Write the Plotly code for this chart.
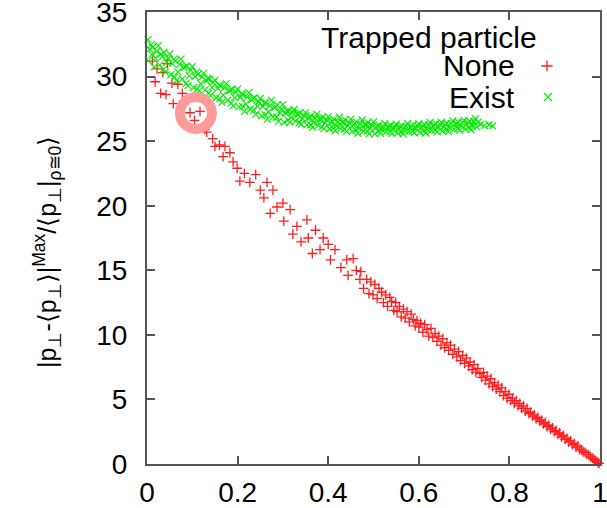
import plotly.graph_objects as go

# Trapped particle: None  (red "+")
none_x = [
    0.012, 0.022, 0.018, 0.035, 0.045, 0.030, 0.055, 0.068, 0.042, 0.078,
    0.058, 0.088, 0.095, 0.117, 0.105, 0.128, 0.132, 0.145, 0.160, 0.150,
    0.172, 0.183, 0.168, 0.190, 0.199, 0.215, 0.205, 0.227, 0.240, 0.250,
    0.265, 0.258, 0.278, 0.287, 0.272, 0.300, 0.316, 0.302, 0.331, 0.353,
    0.322, 0.356, 0.340, 0.372, 0.389, 0.382, 0.365, 0.400, 0.415, 0.405,
    0.441, 0.428, 0.444, 0.455, 0.462, 0.470,
    0.472, 0.478, 0.485, 0.490, 0.494, 0.499, 0.503, 0.508, 0.512, 0.518,
    0.522, 0.527, 0.531, 0.536, 0.540, 0.545, 0.549, 0.552, 0.557, 0.561,
    0.566, 0.570, 0.574, 0.579, 0.583, 0.588, 0.592, 0.596, 0.600, 0.604,
    0.609, 0.613, 0.618, 0.622, 0.627, 0.631, 0.636, 0.640, 0.644, 0.649,
    0.653, 0.657, 0.662, 0.666, 0.670, 0.675, 0.679, 0.684, 0.688, 0.692,
    0.697, 0.701, 0.705, 0.710, 0.713, 0.718, 0.722, 0.726, 0.730, 0.735,
    0.739, 0.743, 0.747, 0.751, 0.755, 0.759, 0.763, 0.767, 0.771, 0.775,
    0.779, 0.783, 0.787, 0.791, 0.795, 0.799, 0.803, 0.807, 0.811, 0.815,
    0.819, 0.823, 0.827, 0.831, 0.835, 0.839, 0.843, 0.847, 0.851, 0.855,
    0.859, 0.863, 0.867, 0.871, 0.875, 0.879, 0.883, 0.887, 0.891, 0.895,
    0.899, 0.903, 0.907, 0.911, 0.915, 0.919, 0.923, 0.927, 0.931, 0.935,
    0.939, 0.943, 0.947, 0.951, 0.955, 0.959, 0.963, 0.967, 0.971, 0.975,
    0.979, 0.983, 0.987, 0.991, 0.995, 0.998,
]
none_y = [
    31.2, 30.6, 29.6, 30.3, 31.0, 28.7, 29.5, 29.4, 28.6, 28.7,
    27.9, 28.2, 27.2, 27.3, 26.6, 25.9, 25.7, 25.2, 24.7, 24.6,
    24.6, 24.1, 23.8, 23.4, 22.9, 22.5, 21.9, 21.8, 22.4, 21.2,
    21.8, 20.6, 21.2, 19.9, 19.4, 20.2, 19.7, 18.8, 18.4, 18.9,
    17.8, 17.5, 17.2, 18.1, 17.5, 16.6, 16.3, 17.0, 16.6, 15.8,
    15.8, 15.2, 14.6, 15.9, 15.0, 14.3,
    14.9, 13.6, 14.3, 13.2, 14.1, 13.1, 13.9, 12.8, 13.6, 13.3,
    12.5, 13.1, 12.2, 12.9, 12.6, 11.9, 12.5, 11.8, 12.2, 11.4,
    12.0, 11.3, 11.8, 11.0, 11.6, 11.2, 10.7, 11.1, 10.6, 10.9,
    10.2, 10.8, 10.4, 9.9, 10.5, 9.8, 10.1, 9.5, 9.9, 9.2,
    9.7, 9.0, 9.4, 8.8, 9.2, 8.5, 8.9, 8.3, 8.7, 8.0,
    8.4, 7.8, 8.2, 7.6, 7.9, 7.3, 7.7, 7.1, 7.4, 7.0,
    6.7, 7.1, 6.5, 6.8, 6.2, 6.6, 6.0, 6.3, 5.8, 6.1,
    5.6, 5.9, 5.3, 5.6, 5.1, 5.4, 4.9, 5.1, 4.7, 4.9,
    4.5, 4.7, 4.3, 4.5, 4.1, 4.3, 3.9, 4.0, 3.7, 3.8,
    3.5, 3.6, 3.3, 3.4, 3.1, 3.2, 2.9, 3.0, 2.7, 2.8,
    2.5, 2.6, 2.3, 2.4, 2.1, 2.2, 1.9, 2.0, 1.7, 1.8,
    1.5, 1.6, 1.3, 1.4, 1.15, 1.1, 0.95, 0.9, 0.75, 0.7,
    0.55, 0.45, 0.35, 0.25, 0.12, 0.05,
]

# Trapped particle: Exist  (green "x")
exist_x = [
    0.002, 0.006, 0.003, 0.0125, 0.0185, 0.0155, 0.025, 0.031, 0.028, 0.0375, 0.0435, 0.0405,
    0.050, 0.056, 0.053, 0.0625, 0.0685, 0.0655, 0.075, 0.081, 0.078, 0.0875, 0.0935, 0.0905,
    0.100, 0.106, 0.103, 0.1125, 0.1185, 0.1155, 0.125, 0.131, 0.128, 0.1375, 0.1435, 0.1405,
    0.150, 0.156, 0.153, 0.1625, 0.1685, 0.1655, 0.175, 0.181, 0.178, 0.1875, 0.1935, 0.1905,
    0.200, 0.206, 0.203, 0.2125, 0.2185, 0.2155, 0.225, 0.231, 0.228, 0.2375, 0.2435, 0.2405,
    0.250, 0.256, 0.253, 0.2625, 0.2685, 0.2655, 0.275, 0.281, 0.278, 0.2875, 0.2935, 0.2905,
    0.300, 0.306, 0.303, 0.3125, 0.3185, 0.3155, 0.325, 0.331, 0.328, 0.3375, 0.3435, 0.3405,
    0.350, 0.356, 0.353, 0.3625, 0.3685, 0.3655, 0.375, 0.381, 0.378, 0.3875, 0.3935, 0.3905,
    0.400, 0.406, 0.403, 0.4125, 0.4185, 0.4155, 0.425, 0.431, 0.428, 0.4375, 0.4435, 0.4405,
    0.450, 0.456, 0.453, 0.4625, 0.4685, 0.4655, 0.475, 0.481, 0.478, 0.4875, 0.4935, 0.4905,
    0.500, 0.506, 0.503, 0.5125, 0.5185, 0.5155, 0.525, 0.531, 0.528, 0.5375, 0.5435, 0.5405,
    0.550, 0.556, 0.553, 0.5625, 0.5685, 0.5655, 0.575, 0.581, 0.578, 0.5875, 0.5935, 0.5905,
    0.600, 0.606, 0.603, 0.6125, 0.6185, 0.6155, 0.625, 0.631, 0.628, 0.6375, 0.6435, 0.6405,
    0.650, 0.656, 0.653, 0.6625, 0.6685, 0.6655, 0.675, 0.681, 0.678, 0.6875, 0.6935, 0.6905,
    0.700, 0.706, 0.703, 0.7125, 0.7185, 0.7155, 0.725, 0.731, 0.728,
    0.737, 0.745, 0.755, 0.763,
    # second pass of the same run (interleaved samples)
    0.009, 0.0215, 0.034, 0.0465, 0.059, 0.0715, 0.084, 0.0965, 0.109, 0.1215,
    0.134, 0.1465, 0.159, 0.1715, 0.184, 0.1965, 0.209, 0.2215, 0.234, 0.2465,
    0.259, 0.2715, 0.284, 0.2965, 0.309, 0.3215, 0.334, 0.3465, 0.359, 0.3715,
    0.384, 0.3965, 0.409, 0.4215, 0.434, 0.4465, 0.459, 0.4715, 0.484, 0.4965,
    0.509, 0.5215, 0.534, 0.5465, 0.559, 0.5715, 0.584, 0.5965, 0.609, 0.6215,
    0.634, 0.6465, 0.659, 0.6715, 0.684, 0.6965, 0.709, 0.7215,
    0.011, 0.036, 0.061, 0.086, 0.111, 0.136, 0.161, 0.186, 0.211, 0.236,
    0.261, 0.286, 0.311, 0.336, 0.361, 0.386, 0.411, 0.436, 0.461, 0.486,
    0.511, 0.536, 0.561, 0.586, 0.611, 0.636, 0.661, 0.686, 0.711,
]
exist_y = [
    32.86, 32.10, 31.24, 32.27, 31.42, 30.75, 32.40, 31.74, 30.88, 31.87, 31.10, 30.35,
    31.76, 31.00, 30.14, 31.22, 30.37, 29.70, 31.35, 30.69, 29.83, 30.82, 30.06, 29.30,
    30.76, 30.00, 29.14, 30.18, 29.46, 28.90, 30.25, 29.69, 28.97, 29.81, 29.17, 28.53,
    29.72, 29.08, 28.36, 29.28, 28.56, 28.00, 29.45, 28.89, 28.17, 29.01, 28.37, 27.73,
    29.02, 28.38, 27.66, 28.58, 27.86, 27.30, 28.75, 28.19, 27.47, 28.36, 27.72, 27.08,
    28.32, 27.68, 26.96, 27.98, 27.26, 26.70, 28.15, 27.59, 26.87, 27.81, 27.17, 26.53,
    27.82, 27.18, 26.46, 27.33, 26.84, 26.45, 27.45, 27.07, 26.57, 27.19, 26.75, 26.31,
    27.20, 26.76, 26.26, 26.95, 26.46, 26.07, 27.10, 26.72, 26.22, 26.86, 26.42, 25.97,
    26.90, 26.46, 25.96, 26.68, 26.19, 25.80, 26.85, 26.47, 25.97, 26.64, 26.20, 25.76,
    26.70, 26.26, 25.76, 26.48, 25.99, 25.60, 26.65, 26.27, 25.77, 26.44, 26.00, 25.56,
    26.50, 26.06, 25.56, 26.24, 25.88, 25.60, 26.37, 26.09, 25.73, 26.23, 25.91, 25.59,
    26.31, 25.99, 25.63, 26.19, 25.83, 25.55, 26.37, 26.09, 25.73, 26.28, 25.96, 25.64,
    26.36, 26.04, 25.68, 26.27, 25.91, 25.63, 26.45, 26.17, 25.81, 26.36, 26.04, 25.72,
    26.46, 26.14, 25.78, 26.37, 26.01, 25.73, 26.57, 26.29, 25.93, 26.48, 26.16, 25.84,
    26.61, 26.29, 25.93, 26.54, 26.18, 25.90, 26.75, 26.47, 26.11,
    26.32, 26.20, 26.27, 26.18,
    32.45, 31.95, 31.55, 31.40, 31.35, 30.95, 30.75, 30.50, 30.35, 29.95,
    29.85, 29.55, 29.35, 29.15, 28.95, 28.80, 28.65, 28.40, 28.30, 28.05,
    27.95, 27.75, 27.65, 27.45, 27.35, 27.22, 27.05, 26.98, 26.85, 26.78,
    26.67, 26.62, 26.52, 26.50, 26.42, 26.40, 26.33, 26.32, 26.25, 26.22,
    26.16, 26.13, 26.11, 26.12, 26.10, 26.14, 26.15, 26.18, 26.19, 26.25,
    26.24, 26.30, 26.31, 26.38, 26.37, 26.45, 26.44, 26.52,
    31.70, 30.55, 29.95, 29.45, 29.05, 28.70, 28.30, 27.95, 27.70, 27.40,
    27.05, 26.85, 26.62, 26.42, 26.25, 26.10, 26.00, 25.92, 25.85, 25.78,
    25.75, 25.72, 25.74, 25.78, 25.80, 25.85, 25.90, 25.98, 26.05,
]

x_ticks = [0, 0.2, 0.4, 0.6, 0.8, 1]
x_tick_text = ["0", "0.2", "0.4", "0.6", "0.8", "1"]
y_ticks = [0, 5, 10, 15, 20, 25, 30, 35]

legend_title = "Trapped particle"
legend_names = ["None", "Exist"]

# highlighted point (ring marker)
ring_x, ring_y = 0.108, 27.18

FONT = "Liberation Sans, Arial, Helvetica, sans-serif"
RED = "rgb(255,30,30)"
GREEN = "rgb(0,235,0)"
FRAME = "#555555"

# plot-area geometry in pixels
W, H = 607, 508
L, R, T, B = 147, 7, 12, 44
PW, PH = W - L - R, H - T - B

fig = go.Figure()

fig.add_trace(go.Scatter(
    x=none_x, y=none_y, mode="markers", name=legend_names[0],
    marker=dict(symbol="cross-thin", size=7, line=dict(color=RED, width=1.3)),
    cliponaxis=False, showlegend=False,
))
fig.add_trace(go.Scatter(
    x=exist_x, y=exist_y, mode="markers", name=legend_names[1],
    marker=dict(symbol="x-thin", size=7, line=dict(color=GREEN, width=1.1)),
    cliponaxis=False, showlegend=False,
))

# key samples drawn on an overlay axis spanning the plot area
def px_x(p):
    return (p - L) / PW

def px_y(p):
    return (H - B - p) / PH

fig.add_trace(go.Scatter(
    x=[px_x(547)], y=[px_y(66)], xaxis="x2", yaxis="y2", mode="markers",
    marker=dict(symbol="cross-thin", size=8, line=dict(color=RED, width=1.3)),
    showlegend=False, cliponaxis=False,
))
fig.add_trace(go.Scatter(
    x=[px_x(548)], y=[px_y(97)], xaxis="x2", yaxis="y2", mode="markers",
    marker=dict(symbol="x-thin", size=8, line=dict(color=GREEN, width=1.1)),
    showlegend=False, cliponaxis=False,
))

axis_common = dict(
    showline=True, linecolor=FRAME, linewidth=2, mirror="ticks",
    ticks="inside", ticklen=8, tickwidth=1.5, tickcolor=FRAME,
    showgrid=False, zeroline=False, automargin=False,
    ticklabeloverflow="allow",
    tickfont=dict(family=FONT, size=28, color="black"),
)

fig.update_layout(
    width=W, height=H,
    margin=dict(l=L, r=R, t=T, b=B, pad=0, autoexpand=False),
    paper_bgcolor="white", plot_bgcolor="white",
    font=dict(family=FONT, color="black"),
    xaxis=dict(range=[0, 1], tickvals=x_ticks, ticktext=x_tick_text,
               ticklabelstandoff=2, **axis_common),
    yaxis=dict(range=[0, 35], tickvals=y_ticks, ticklabelstandoff=12,
               **axis_common),
    xaxis2=dict(overlaying="x", range=[0, 1], visible=False),
    yaxis2=dict(overlaying="y", range=[0, 1], visible=False),
    showlegend=False,
)

rx = 16 / PW * 1.0
ry = 16 / PH * 35.0
fig.add_shape(
    type="circle", xref="x", yref="y",
    x0=ring_x - rx, x1=ring_x + rx, y0=ring_y - ry, y1=ring_y + ry,
    line=dict(color="#ff9a9a", width=10), layer="above",
)

fig.add_annotation(
    text=legend_title, xref="paper", yref="paper",
    x=px_x(429), y=px_y(37), xanchor="center", yanchor="middle",
    showarrow=False, font=dict(family=FONT, size=30),
)
for name, py in zip(legend_names, [66, 97]):
    fig.add_annotation(
        text=name, xref="paper", yref="paper",
        x=px_x(517), y=px_y(py), xanchor="right", yanchor="middle",
        showarrow=False, font=dict(family=FONT, size=30),
    )

fig.add_annotation(
    text="|p<sub>⊥</sub>-⟨p<sub>⊥</sub>⟩|<sup>Max</sup>/⟨p<sub>⊥</sub>|<sub>ρ≅0</sub>⟩",
    xref="paper", yref="paper", x=px_x(47), y=px_y(252),
    xanchor="center", yanchor="middle", textangle=-90,
    showarrow=False, font=dict(family=FONT, size=25),
)

fig.write_html("out.html")
